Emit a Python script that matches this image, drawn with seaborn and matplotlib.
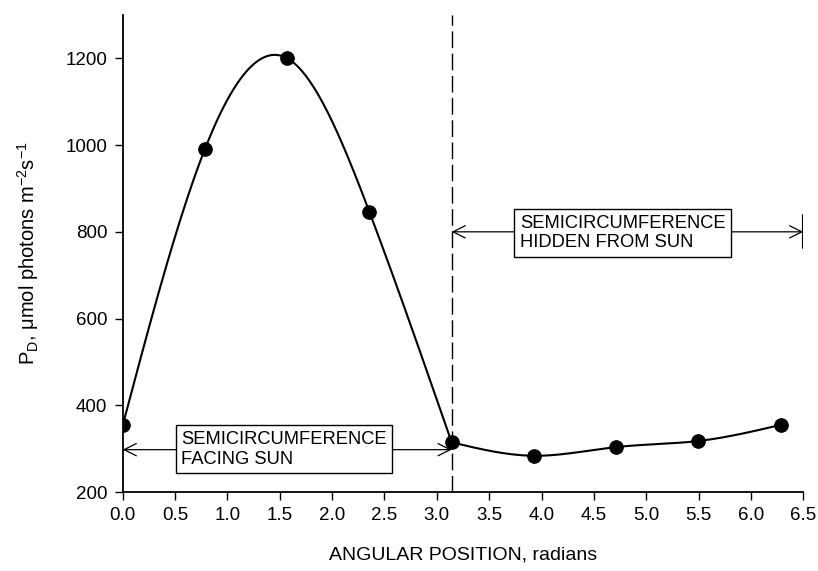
import numpy as np
import pandas as pd
import matplotlib
matplotlib.use("Agg")
import matplotlib.pyplot as plt
import seaborn as sns

# dados
angulo = [0.0, np.pi / 4, np.pi / 2, 3 * np.pi / 4, np.pi,
          5 * np.pi / 4, 3 * np.pi / 2, 7 * np.pi / 4, 2 * np.pi]
pd_valores = [354, 991, 1200, 846, 315, 284, 304, 318, 355]
x_ticks = [0.0, 0.5, 1.0, 1.5, 2.0, 2.5, 3.0, 3.5, 4.0, 4.5, 5.0, 5.5, 6.0, 6.5]
y_ticks = [200, 400, 600, 800, 1000, 1200]
texto_frente = "SEMICIRCUMFERENCE\nFACING SUN"
texto_oculto = "SEMICIRCUMFERENCE\nHIDDEN FROM SUN"


def spline_natural(x, y, xs):
    # spline cúbica natural, só para desenhar a curva suave entre os pontos
    x = np.asarray(x, float)
    y = np.asarray(y, float)
    n = len(x)
    h = np.diff(x)
    A = np.zeros((n, n))
    b = np.zeros(n)
    A[0, 0] = A[-1, -1] = 1
    for i in range(1, n - 1):
        A[i, i - 1] = h[i - 1]
        A[i, i] = 2 * (h[i - 1] + h[i])
        A[i, i + 1] = h[i]
        b[i] = 6 * ((y[i + 1] - y[i]) / h[i] - (y[i] - y[i - 1]) / h[i - 1])
    M = np.linalg.solve(A, b)
    idx = np.clip(np.searchsorted(x, xs) - 1, 0, n - 2)
    x0, x1 = x[idx], x[idx + 1]
    hh = x1 - x0
    t0, t1 = x1 - xs, xs - x0
    return (M[idx] * t0**3 / (6 * hh) + M[idx + 1] * t1**3 / (6 * hh)
            + (y[idx] / hh - M[idx] * hh / 6) * t0
            + (y[idx + 1] / hh - M[idx + 1] * hh / 6) * t1)


df = pd.DataFrame({"angulo": angulo, "pd": pd_valores})

# a curva tem um "bico" em pi: uma spline para cada semicircunferência
partes = []
for ini, fim in [(0, 5), (4, 9)]:
    xs = np.linspace(angulo[ini], angulo[fim - 1], 200)
    partes.append(pd.DataFrame({"angulo": xs,
                                "pd": spline_natural(angulo[ini:fim], pd_valores[ini:fim], xs)}))
curva = pd.concat(partes, ignore_index=True)

sns.set_theme(style="ticks")
plt.rcParams["font.family"] = ["Liberation Sans", "DejaVu Sans"]
plt.rcParams["mathtext.default"] = "regular"
plt.rcParams["text.color"] = "black"
plt.rcParams["axes.labelcolor"] = "black"
plt.rcParams["xtick.labelcolor"] = "black"
plt.rcParams["ytick.labelcolor"] = "black"

fig = plt.figure(figsize=(8.18, 5.71), dpi=100)
ax = fig.add_axes([0.150, 0.138, 0.832, 0.836])

sns.lineplot(data=curva, x="angulo", y="pd", color="black", lw=1.5, ax=ax,
             sort=False, estimator=None)
sns.scatterplot(data=df, x="angulo", y="pd", color="black", s=95,
                edgecolor="black", zorder=5, ax=ax)

ax.axvline(np.pi, color="black", lw=1.0, dashes=(12, 4))

caixa = dict(boxstyle="square,pad=0.3", fc="white", ec="black", lw=1.0)

# setas das semicircunferências
ax.annotate("", xy=(0, 298), xytext=(np.pi, 298),
            arrowprops=dict(arrowstyle="<->", color="black", lw=0.9,
                            mutation_scale=22, shrinkA=0, shrinkB=0))
ax.text(1.54, 299, texto_frente, ha="center", va="center", fontsize=13.2,
        linespacing=1.2, multialignment="left", bbox=caixa)

ax.annotate("", xy=(np.pi, 800), xytext=(6.5, 800),
            arrowprops=dict(arrowstyle="<->", color="black", lw=0.9,
                            mutation_scale=22, shrinkA=0, shrinkB=0))
ax.plot([6.5, 6.5], [762, 838], color="black", lw=1.5)
ax.text(4.775, 797, texto_oculto, ha="center", va="center", fontsize=13.2,
        linespacing=1.2, multialignment="left", bbox=caixa)

ax.set_xlim(0, 6.5)
ax.set_ylim(200, 1300)
ax.set_xticks(x_ticks)
ax.set_xticklabels([f"{v:.1f}" for v in x_ticks])
ax.set_yticks(y_ticks)
ax.tick_params(labelsize=13.5, length=6, width=1.0, color="black", pad=5)
for s in ["left", "bottom"]:
    ax.spines[s].set_color("black")
    ax.spines[s].set_linewidth(1.3)
sns.despine(ax=ax)

ax.set_xlabel("ANGULAR POSITION, radians", fontsize=14, labelpad=16)
ax.set_ylabel(r"P$_{D}$, μmol photons m$^{-2}$s$^{-1}$", fontsize=14.5, labelpad=18)

fig.savefig("out.png", dpi=100)
